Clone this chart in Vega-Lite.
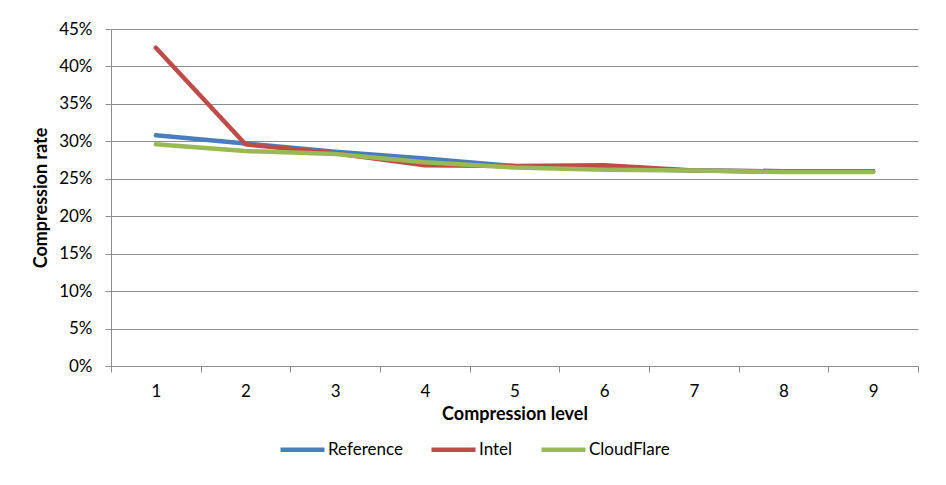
{
  "$schema": "https://vega.github.io/schema/vega-lite/v6.json",
  "autosize": {"type": "none"},
  "width": 807,
  "height": 337,
  "padding": {"left": 111, "top": 29, "right": 28, "bottom": 119},
  "background": "white",
  "config": {
    "font": "Lato",
    "view": {"stroke": null},
    "axis": {"labelFont": "Lato", "titleFont": "Lato", "labelColor": "#000", "titleColor": "#000"}
  },
  "data": {
    "values": [
      {"level": 1, "series": "Reference", "rate": 0.308},
      {"level": 2, "series": "Reference", "rate": 0.297},
      {"level": 3, "series": "Reference", "rate": 0.286},
      {"level": 4, "series": "Reference", "rate": 0.277},
      {"level": 5, "series": "Reference", "rate": 0.267},
      {"level": 6, "series": "Reference", "rate": 0.264},
      {"level": 7, "series": "Reference", "rate": 0.261},
      {"level": 8, "series": "Reference", "rate": 0.260},
      {"level": 9, "series": "Reference", "rate": 0.260},
      {"level": 1, "series": "Intel", "rate": 0.425},
      {"level": 2, "series": "Intel", "rate": 0.296},
      {"level": 3, "series": "Intel", "rate": 0.284},
      {"level": 4, "series": "Intel", "rate": 0.268},
      {"level": 5, "series": "Intel", "rate": 0.267},
      {"level": 6, "series": "Intel", "rate": 0.268},
      {"level": 7, "series": "Intel", "rate": 0.261},
      {"level": 8, "series": "Intel", "rate": 0.260},
      {"level": 9, "series": "Intel", "rate": 0.260},
      {"level": 1, "series": "CloudFlare", "rate": 0.296},
      {"level": 2, "series": "CloudFlare", "rate": 0.287},
      {"level": 3, "series": "CloudFlare", "rate": 0.283},
      {"level": 4, "series": "CloudFlare", "rate": 0.272},
      {"level": 5, "series": "CloudFlare", "rate": 0.265},
      {"level": 6, "series": "CloudFlare", "rate": 0.262},
      {"level": 7, "series": "CloudFlare", "rate": 0.261},
      {"level": 8, "series": "CloudFlare", "rate": 0.259},
      {"level": 9, "series": "CloudFlare", "rate": 0.259}
    ]
  },
  "mark": {"type": "line", "strokeWidth": 4.5, "strokeCap": "round", "strokeJoin": "round"},
  "encoding": {
    "x": {
      "field": "level",
      "type": "ordinal",
      "scale": {"type": "band", "paddingInner": 0, "paddingOuter": 0},
      "axis": {
        "title": "Compression level",
        "titleFontSize": 18,
        "titleFontWeight": "bold",
        "titlePadding": 6,
        "labelAngle": 0,
        "labelFontSize": 17,
        "labelPadding": 11,
        "tickBand": "extent",
        "tickSize": 6,
        "tickColor": "#8c8c8c",
        "domainColor": "#8c8c8c",
        "grid": false
      }
    },
    "y": {
      "field": "rate",
      "type": "quantitative",
      "scale": {"domain": [0, 0.45], "nice": false},
      "axis": {
        "title": "Compression rate",
        "titleFontSize": 18,
        "titleFontWeight": "bold",
        "titlePadding": 8,
        "values": [0, 0.05, 0.1, 0.15, 0.2, 0.25, 0.3, 0.35, 0.4, 0.45],
        "format": ".0%",
        "labelFontSize": 17,
        "labelPadding": 13,
        "tickSize": 6,
        "tickColor": "#8c8c8c",
        "domainColor": "#8c8c8c",
        "grid": true,
        "gridColor": "#8c8c8c",
        "gridWidth": 1.2,
        "gridOpacity": 1
      }
    },
    "color": {
      "field": "series",
      "type": "nominal",
      "sort": ["Reference", "Intel", "CloudFlare"],
      "scale": {"domain": ["Reference", "Intel", "CloudFlare"], "range": ["#4a7ebb", "#be4b48", "#98b954"]},
      "legend": {
        "title": null,
        "orient": "none",
        "legendX": 167,
        "legendY": 396,
        "direction": "horizontal",
        "symbolType": "stroke",
        "symbolSize": 1936,
        "symbolStrokeWidth": 4.5,
        "labelFontSize": 17,
        "labelFont": "Lato",
        "labelOffset": 1,
        "columnPadding": 19
      }
    }
  }
}
